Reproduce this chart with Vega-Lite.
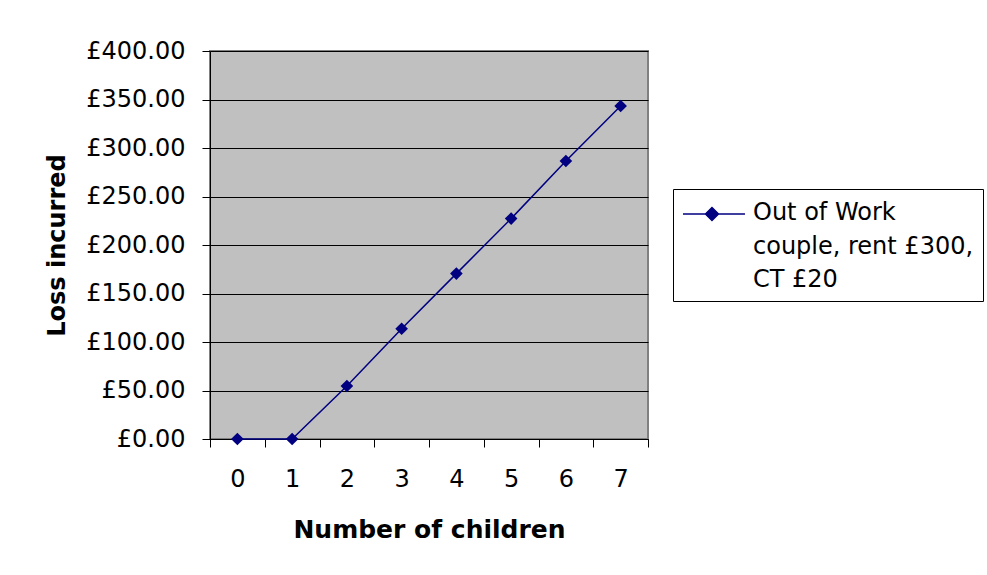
{
  "$schema": "https://vega.github.io/schema/vega-lite/v6.json",
  "width": 438,
  "height": 388,
  "autosize": {"type": "none"},
  "padding": {"left": 210, "top": 51, "right": 339, "bottom": 136},
  "background": "white",
  "config": {
    "font": "DejaVu Sans",
    "view": {"fill": "#C0C0C0", "stroke": "#808080", "strokeWidth": 2}
  },
  "data": {
    "values": [
      {"children": "0", "loss": 0, "series": "Out of Work couple, rent £300, CT £20"},
      {"children": "1", "loss": 0, "series": "Out of Work couple, rent £300, CT £20"},
      {"children": "2", "loss": 54.6, "series": "Out of Work couple, rent £300, CT £20"},
      {"children": "3", "loss": 113.7, "series": "Out of Work couple, rent £300, CT £20"},
      {"children": "4", "loss": 170.5, "series": "Out of Work couple, rent £300, CT £20"},
      {"children": "5", "loss": 227.2, "series": "Out of Work couple, rent £300, CT £20"},
      {"children": "6", "loss": 286.6, "series": "Out of Work couple, rent £300, CT £20"},
      {"children": "7", "loss": 343.3, "series": "Out of Work couple, rent £300, CT £20"}
    ]
  },
  "mark": {
    "type": "line",
    "color": "#000080",
    "strokeWidth": 1.5,
    "point": {"shape": "diamond", "size": 160, "filled": true, "color": "#000080", "opacity": 1}
  },
  "encoding": {
    "x": {
      "field": "children",
      "type": "ordinal",
      "bandPosition": 0.5,
      "scale": {"type": "band", "paddingInner": 0, "paddingOuter": 0},
      "axis": {
        "title": "Number of children",
        "labelAngle": 0,
        "tickBand": "extent",
        "ticks": true,
        "tickSize": 8,
        "tickColor": "black",
        "domainColor": "black",
        "labelFontSize": 24,
        "labelColor": "black",
        "labelPadding": 20,
        "titleFontSize": 25,
        "titleFontWeight": "bold",
        "titleColor": "black",
        "titlePadding": 26,
        "grid": false
      }
    },
    "y": {
      "field": "loss",
      "type": "quantitative",
      "scale": {"domain": [0, 400], "nice": false},
      "axis": {
        "title": "Loss incurred",
        "values": [0, 50, 100, 150, 200, 250, 300, 350, 400],
        "labelExpr": "'£' + format(datum.value, '.2f')",
        "tickSize": 8,
        "tickColor": "black",
        "domainColor": "black",
        "labelPadding": 17,
        "labelFontSize": 24,
        "labelColor": "black",
        "titleFontSize": 24,
        "titleFontWeight": "bold",
        "titleColor": "black",
        "titlePadding": 16,
        "grid": true,
        "gridColor": "black",
        "gridOpacity": 1
      }
    },
    "color": {
      "field": "series",
      "type": "nominal",
      "scale": {"range": ["#000080"]},
      "legend": {
        "title": null,
        "orient": "none",
        "legendX": 463,
        "legendY": 138,
        "padding": 9,
        "strokeColor": "black",
        "fillColor": "white",
        "cornerRadius": 0,
        "symbolType": "M-1,0L3.133,0M0.5,0L0.933,-0.433L1.366,0L0.933,0.433Z",
        "symbolSize": 900,
        "symbolStrokeWidth": 1.5,
        "symbolFillColor": "#000080",
        "symbolStrokeColor": "#000080",
        "labelFontSize": 24,
        "labelColor": "black",
        "labelLimit": 400,
        "labelOffset": 39,
        "labelBaseline": "alphabetic",
        "labelExpr": "['Out of Work', 'couple, rent £300,', 'CT £20']",
        "encode": {
          "symbols": {"update": {"fill": {"value": "#000080"}, "stroke": {"value": "#000080"}, "opacity": {"value": 1}}},
          "labels": {"update": {"dy": {"value": 6}, "lineHeight": {"value": 33.5}}}
        }
      }
    }
  }
}
